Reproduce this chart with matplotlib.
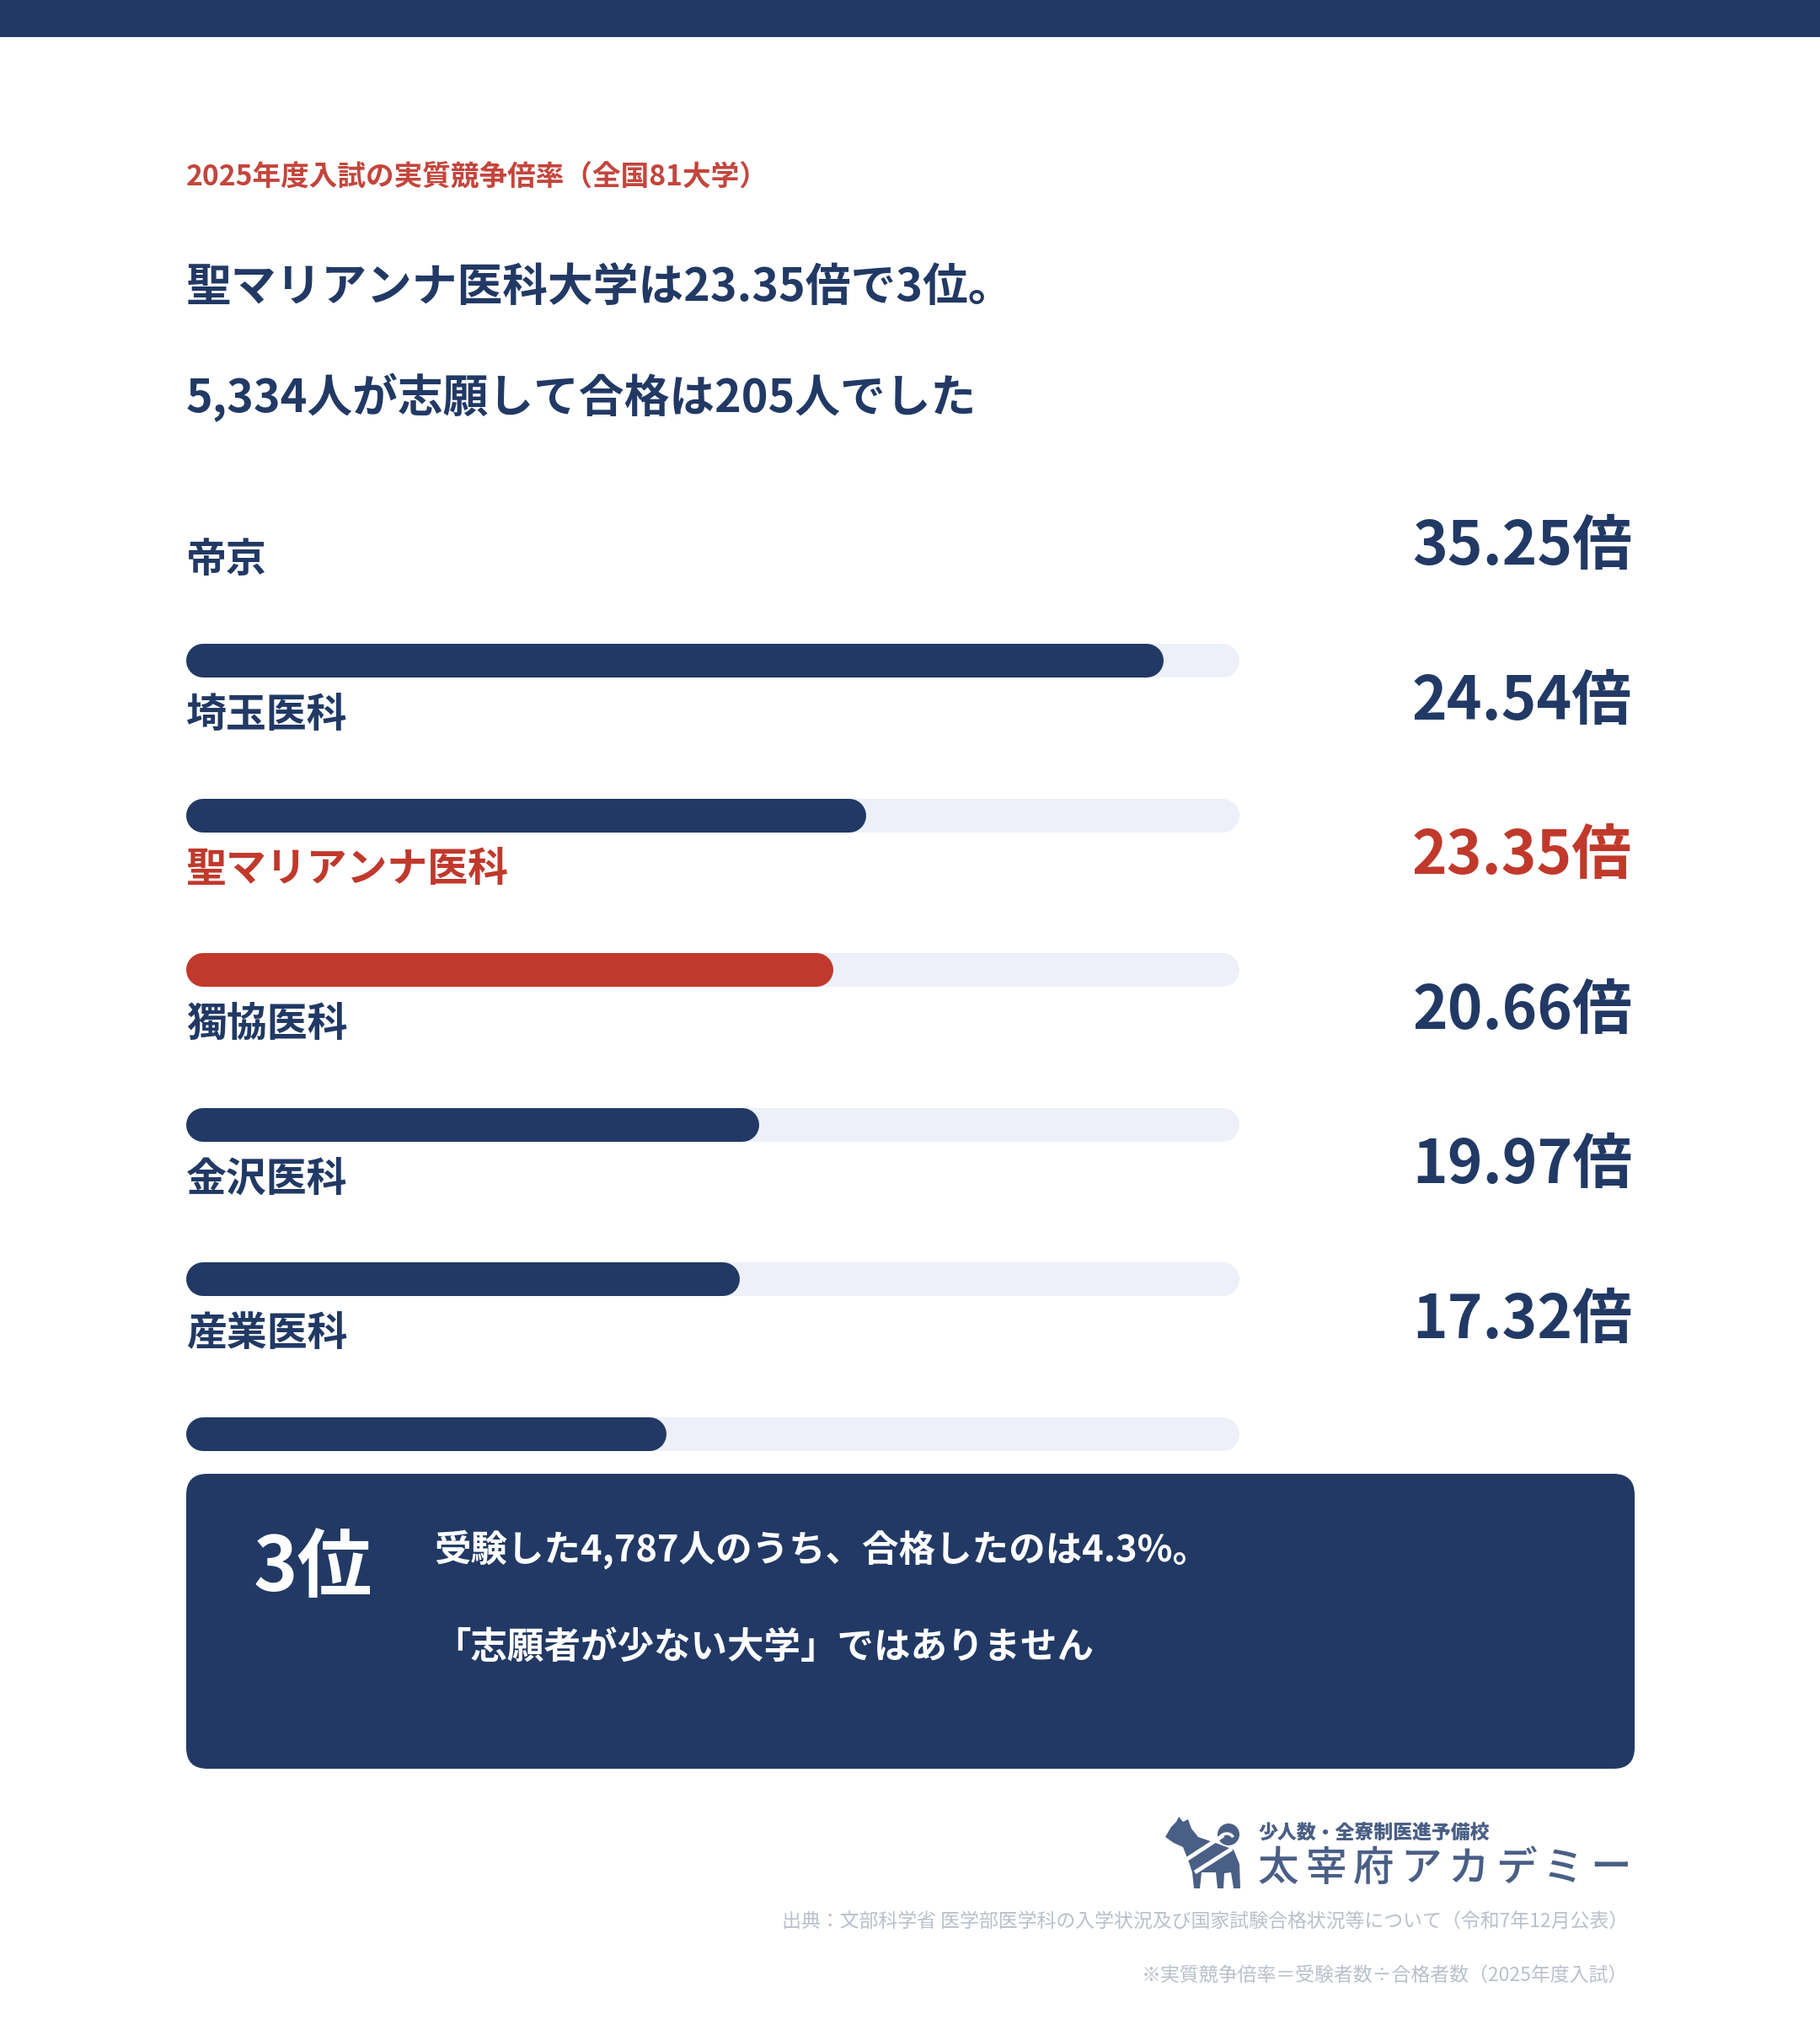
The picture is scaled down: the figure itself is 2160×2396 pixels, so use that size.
import matplotlib
matplotlib.use("Agg")
import matplotlib.pyplot as plt
from matplotlib.patches import FancyBboxPatch, Rectangle, Polygon, Circle, Arc

plt.rcParams['font.family'] = ['Noto Sans CJK JP', 'DejaVu Sans']

# ---- data ----
schools = ['帝京', '埼玉医科', '聖マリアンナ医科', '獨協医科', '金沢医科', '産業医科']
ratios = [35.25, 24.54, 23.35, 20.66, 19.97, 17.32]
highlight = '聖マリアンナ医科'
scale_max = 38

subtitle = '2025年度入試の実質競争倍率（全国81大学）'
title_lines = ['聖マリアンナ医科大学は23.35倍で3位。', '5,334人が志願して合格は205人でした']
rank_text = '3位'
box_lines = ['受験した4,787人のうち、合格したのは4.3%。', '「志願者が少ない大学」ではありません']
logo_small = '少人数・全寮制医進予備校'
logo_big = '太宰府アカデミー'
source_lines = ['出典：文部科学省 医学部医学科の入学状況及び国家試験合格状況等について（令和7年12月公表）',
                '※実質競争倍率＝受験者数÷合格者数（2025年度入試）']

NAVY = '#213964'
RED = '#c0392b'
TRACK = '#edf0f8'
GREY = '#b9c0cc'
LOGO = '#4a5f85'

W, H = 2160, 2396
fig = plt.figure(figsize=(W / 100, H / 100), dpi=100)
fig.patch.set_facecolor('white')

# background axes in pixel coords
bg = fig.add_axes([0, 0, 1, 1])
bg.set_xlim(0, W)
bg.set_ylim(H, 0)
bg.axis('off')

bg.add_patch(Rectangle((0, 0), W, 44, color=NAVY, lw=0))

bg.text(221, 211, subtitle, color='#c4453c', fontsize=24.2, fontweight='bold', va='center', ha='left')
bg.text(221, 342, title_lines[0], color=NAVY, fontsize=38.7, fontweight='bold', va='center', ha='left')
bg.text(221, 472, title_lines[1], color=NAVY, fontsize=38.7, fontweight='bold', va='center', ha='left')

# ---- bars ----
row_gap = 183.6
top_row = 784
y_lo, y_hi = -1.2, 5.5
ax_top = top_row + y_lo * row_gap
ax_bot = top_row + y_hi * row_gap
x0, x1 = 221, 1471
ax = fig.add_axes([x0 / W, 1 - ax_bot / H, (x1 - x0) / W, (ax_bot - ax_top) / H])
ax.set_xlim(0, scale_max)
ax.set_ylim(y_hi, y_lo)
ax.axis('off')

bar_px = 40
lw = bar_px * 72 / 100
cap = (bar_px / 2) * scale_max / (x1 - x0)
for i, (name, v) in enumerate(zip(schools, ratios)):
    c = RED if name == highlight else NAVY
    ax.plot([cap, scale_max - cap], [i, i], color=TRACK, lw=lw, solid_capstyle='round', zorder=1)
    ax.plot([cap, v - cap], [i, i], color=c, lw=lw, solid_capstyle='round', zorder=2)
    ax.text(0, i - 0.65, name, color=c, fontsize=34.5, fontweight='bold', va='center', ha='left')
    ax.text((1937 - x0) / (x1 - x0) * scale_max, i - 0.735, f'{v:.2f}倍', color=c,
            fontsize=51, fontweight='bold', va='center', ha='right', clip_on=False)

# ---- summary box ----
bg.add_patch(FancyBboxPatch((221 + 25, 1749 + 25), 1719 - 50, 350 - 50,
                            boxstyle='round,pad=25', fc=NAVY, ec='none'))
bg.text(301, 1862, rank_text, color='white', fontsize=64, fontweight='bold', va='center', ha='left')
bg.text(515, 1839, box_lines[0], color='white', fontsize=31.3, fontweight='bold', va='center', ha='left')
bg.text(515, 1955, box_lines[1], color='white', fontsize=31.3, fontweight='bold', va='center', ha='left')

# ---- logo ----
dog = [(1383, 2180), (1390, 2168), (1396, 2162), (1399, 2156), (1404, 2162), (1410, 2159),
       (1414, 2170), (1422, 2180), (1448, 2189), (1464, 2195), (1471, 2212), (1472, 2241),
       (1464, 2241), (1461, 2222), (1453, 2223), (1452, 2241), (1445, 2241), (1443, 2222),
       (1426, 2222), (1424, 2241), (1417, 2241), (1415, 2222), (1411, 2210), (1404, 2192),
       (1393, 2187)]
bg.add_patch(Polygon(dog, closed=True, fc=LOGO, ec='none'))
bg.add_patch(Circle((1458, 2177), 13, fc=LOGO, ec='none'))
bg.add_patch(Arc((1456, 2183), 16, 14, theta1=200, theta2=340, color='white', lw=2.5))
bg.plot([1400, 1452], [2212, 2178], color='white', lw=3.5, solid_capstyle='butt')
bg.plot([1418, 1462], [2222, 2194], color='white', lw=3.5, solid_capstyle='butt')
bg.text(1494, 2175, logo_small, color=LOGO, fontsize=16.5, fontweight='black', va='center', ha='left')
step = (1940 - 1489) / len(logo_big)
for k, ch in enumerate(logo_big):
    bg.text(1489 + step * (k + 0.5), 2218, ch, color=LOGO, fontsize=35, fontweight='medium',
            va='center', ha='center')

bg.text(1932, 2280, source_lines[0], color=GREY, fontsize=16.5, va='center', ha='right')
bg.text(1932, 2344, source_lines[1], color=GREY, fontsize=16.5, va='center', ha='right')

fig.savefig('out.png', dpi=100, facecolor='white')
